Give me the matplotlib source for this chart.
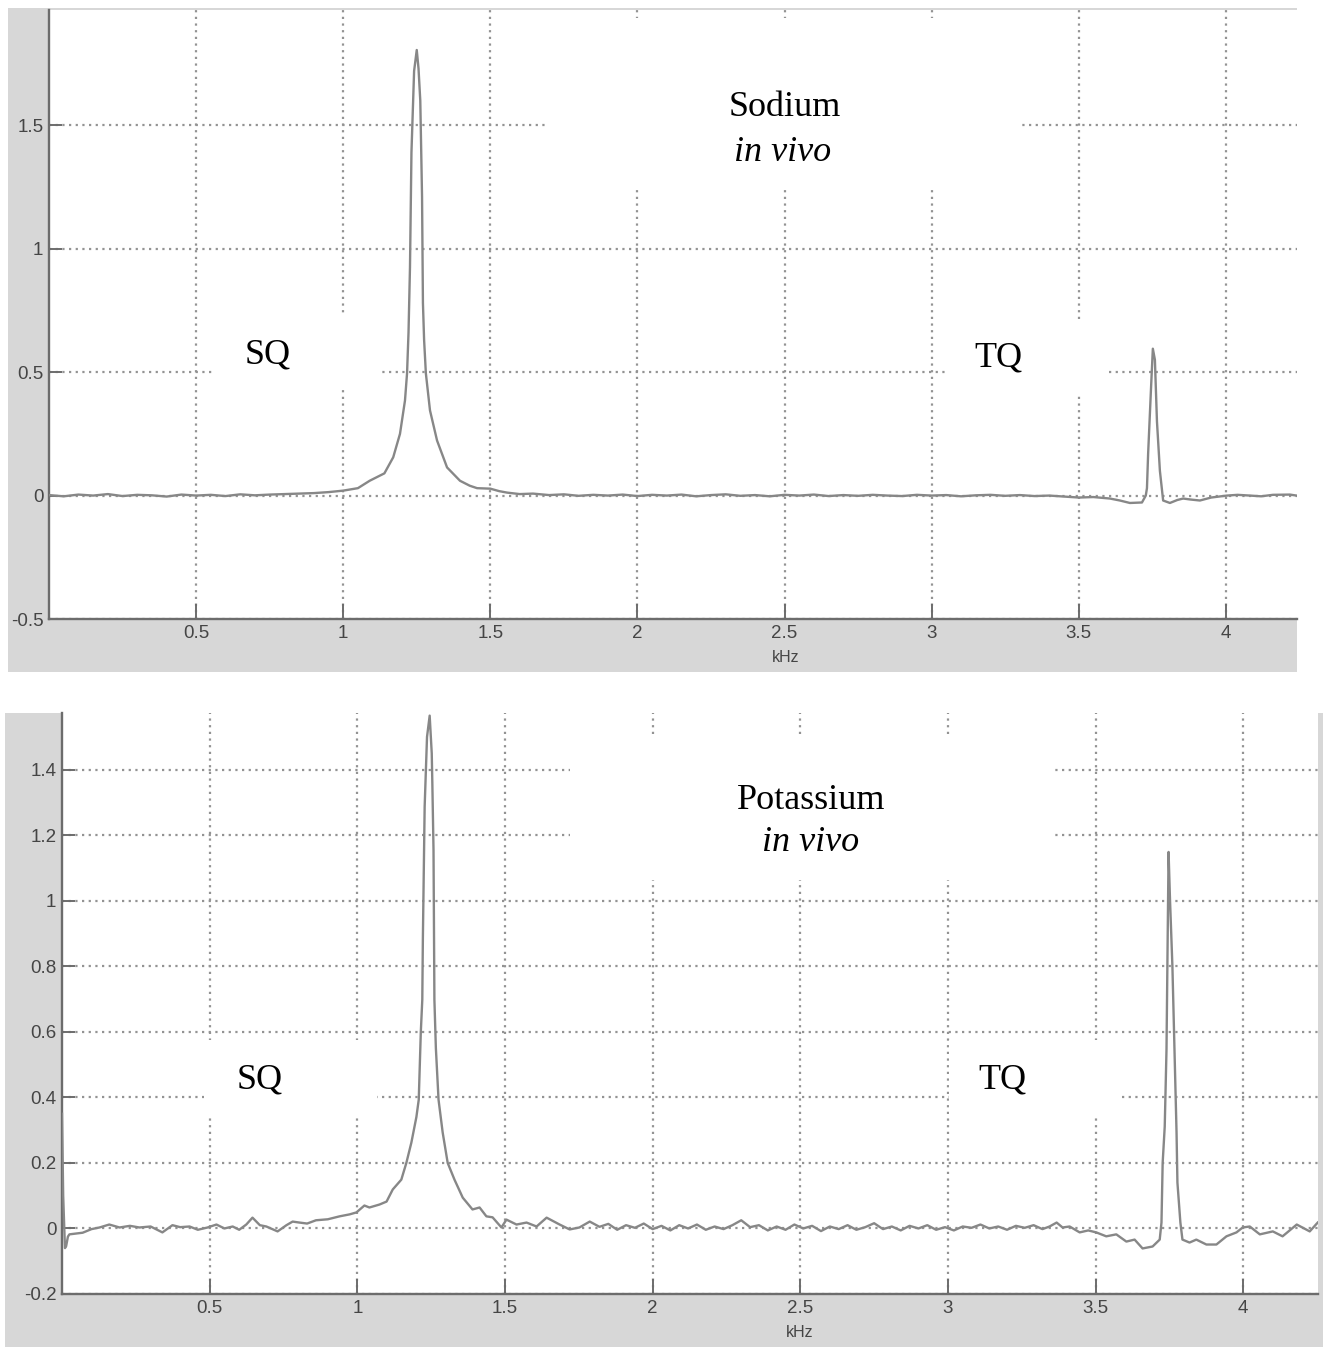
import matplotlib
matplotlib.use("Agg")
import matplotlib.pyplot as plt
from matplotlib.patches import Rectangle

plt.rcParams['font.family'] = ['Liberation Sans', 'DejaVu Sans']
plt.rcParams['axes.unicode_minus'] = False

# --- данные: натрий (Sodium in vivo) ---
na_khz = [0.00, 0.05, 0.10, 0.15, 0.20, 0.25, 0.30, 0.35, 0.40, 0.45, 0.50, 0.55, 0.60, 0.65,
          0.70, 0.75, 0.80, 0.85, 0.90, 0.95, 1.00, 1.05, 1.09, 1.14, 1.17, 1.193, 1.21, 1.217,
          1.222, 1.227, 1.232, 1.241, 1.250, 1.256, 1.262, 1.268, 1.271, 1.275, 1.281, 1.295,
          1.319, 1.353, 1.397, 1.43, 1.455, 1.50, 1.53, 1.557, 1.60, 1.645, 1.70, 1.75, 1.80,
          1.85, 1.90, 1.95, 2.00, 2.05, 2.10, 2.15, 2.20, 2.25, 2.30, 2.35, 2.40, 2.45, 2.50,
          2.55, 2.60, 2.65, 2.70, 2.75, 2.80, 2.85, 2.90, 2.95, 3.00, 3.05, 3.10, 3.15, 3.20,
          3.25, 3.30, 3.35, 3.40, 3.45, 3.50, 3.55, 3.606, 3.64, 3.674, 3.715, 3.728, 3.732,
          3.736, 3.746, 3.752, 3.759, 3.766, 3.776, 3.787, 3.81, 3.835, 3.855, 3.88, 3.912,
          3.95, 4.004, 4.04, 4.082, 4.12, 4.16, 4.218, 4.24]
na_amp = [0.002, -0.003, 0.004, 0.000, 0.006, -0.002, 0.003, 0.001, -0.004, 0.004, 0.000, 0.003,
          -0.002, 0.005, 0.001, 0.004, 0.006, 0.008, 0.010, 0.014, 0.020, 0.030, 0.060, 0.090,
          0.155, 0.25, 0.385, 0.495, 0.66, 0.925, 1.39, 1.72, 1.805, 1.73, 1.60, 1.21, 0.78,
          0.63, 0.495, 0.345, 0.223, 0.114, 0.060, 0.040, 0.030, 0.028, 0.018, 0.012, 0.006,
          0.008, 0.002, 0.005, -0.001, 0.003, 0.000, 0.004, -0.002, 0.003, 0.000, 0.004, -0.003,
          0.002, 0.005, -0.001, 0.002, -0.003, 0.003, 0.000, 0.004, -0.002, 0.002, -0.001, 0.003,
          0.000, -0.002, 0.003, 0.000, 0.002, -0.003, 0.001, 0.003, -0.001, 0.002, -0.002, 0.000,
          -0.004, -0.008, -0.006, -0.012, -0.020, -0.030, -0.028, 0.000, 0.030, 0.17, 0.44,
          0.595, 0.55, 0.30, 0.10, -0.020, -0.030, -0.018, -0.012, -0.016, -0.020, -0.008,
          0.000, 0.003, 0.000, -0.003, 0.003, 0.004, 0.000]

# --- данные: калий (Potassium in vivo) ---
k_khz = [0.000, 0.004, 0.010, 0.014, 0.020, 0.025, 0.07, 0.10, 0.127, 0.16, 0.195, 0.23, 0.262,
         0.30, 0.34, 0.374, 0.40, 0.432, 0.46, 0.493, 0.523, 0.55, 0.578, 0.60, 0.624, 0.645,
         0.67, 0.692, 0.73, 0.76, 0.781, 0.804, 0.83, 0.86, 0.90, 0.94, 0.974, 0.997, 1.024,
         1.041, 1.075, 1.099, 1.12, 1.149, 1.166, 1.183, 1.20, 1.208, 1.215, 1.22, 1.222, 1.228,
         1.236, 1.245, 1.252, 1.254, 1.258, 1.261, 1.266, 1.275, 1.289, 1.306, 1.329, 1.357,
         1.39, 1.414, 1.437, 1.458, 1.488, 1.505, 1.539, 1.573, 1.607, 1.641, 1.685, 1.719,
         1.752, 1.787, 1.82, 1.85, 1.88, 1.91, 1.94, 1.97, 2.00, 2.03, 2.06, 2.09, 2.12, 2.15,
         2.18, 2.21, 2.24, 2.27, 2.30, 2.33, 2.36, 2.39, 2.42, 2.45, 2.48, 2.51, 2.54, 2.57,
         2.60, 2.63, 2.66, 2.69, 2.72, 2.75, 2.78, 2.81, 2.84, 2.87, 2.90, 2.93, 2.96, 2.99,
         3.02, 3.05, 3.08, 3.11, 3.14, 3.17, 3.20, 3.23, 3.26, 3.29, 3.32, 3.344, 3.368, 3.388,
         3.412, 3.446, 3.475, 3.502, 3.536, 3.57, 3.604, 3.632, 3.659, 3.693, 3.717, 3.723,
         3.727, 3.734, 3.740, 3.744, 3.747, 3.752, 3.760, 3.767, 3.774, 3.777, 3.787, 3.794,
         3.818, 3.841, 3.875, 3.909, 3.943, 3.977, 3.998, 4.022, 4.056, 4.10, 4.133, 4.181,
         4.225, 4.252]
k_amp = [0.35, 0.10, -0.06, -0.054, -0.025, -0.018, -0.013, -0.002, 0.003, 0.012, 0.003, 0.008,
         0.003, 0.006, -0.012, 0.010, 0.004, 0.006, -0.004, 0.003, 0.012, 0.000, 0.006, -0.004,
         0.012, 0.033, 0.010, 0.006, -0.009, 0.010, 0.021, 0.018, 0.015, 0.025, 0.028, 0.037,
         0.043, 0.049, 0.070, 0.064, 0.073, 0.082, 0.119, 0.149, 0.20, 0.262, 0.34, 0.393, 0.60,
         0.698, 0.887, 1.287, 1.50, 1.565, 1.45, 1.36, 1.155, 0.698, 0.55, 0.393, 0.293, 0.20,
         0.149, 0.094, 0.058, 0.064, 0.037, 0.034, 0.003, 0.027, 0.012, 0.018, 0.006, 0.033,
         0.012, -0.003, 0.003, 0.021, 0.005, 0.014, -0.004, 0.010, 0.002, 0.015, -0.002, 0.008,
         -0.006, 0.010, 0.000, 0.012, -0.004, 0.006, -0.002, 0.010, 0.025, 0.004, 0.010, -0.006,
         0.006, -0.004, 0.012, 0.000, 0.008, -0.008, 0.006, -0.002, 0.010, -0.004, 0.004, 0.016,
         -0.002, 0.006, -0.006, 0.008, 0.000, 0.010, -0.004, 0.004, -0.006, 0.006, 0.002, 0.012,
         0.000, 0.006, -0.004, 0.008, 0.002, 0.010, -0.002, 0.006, 0.018, 0.003, 0.006, -0.012,
         -0.006, -0.012, -0.024, -0.018, -0.040, -0.034, -0.061, -0.055, -0.034, 0.018, 0.20,
         0.311, 0.546, 0.90, 1.149, 1.00, 0.80, 0.546, 0.293, 0.14, 0.018, -0.034, -0.043,
         -0.034, -0.049, -0.049, -0.024, -0.012, 0.003, 0.006, -0.018, -0.009, -0.024, 0.012,
         -0.009, 0.018]

top_xticks = [0.5, 1, 1.5, 2, 2.5, 3, 3.5, 4]
top_xlabels = ['0.5', '1', '1.5', '2', '2.5', '3', '3.5', '4']
top_yticks = [-0.5, 0, 0.5, 1, 1.5]
top_ylabels = ['-0.5', '0', '0.5', '1', '1.5']
bot_yticks = [-0.2, 0, 0.2, 0.4, 0.6, 0.8, 1, 1.2, 1.4]
bot_ylabels = ['-0.2', '0', '0.2', '0.4', '0.6', '0.8', '1', '1.2', '1.4']

W, H = 1323, 1347
fig = plt.figure(figsize=(W / 100, H / 100), dpi=100)
fig.patch.set_facecolor('white')

gray = '#d7d7d7'
# серые подложки панелей (в пикселях)
for (x0, y0, x1, y1) in [(8, 8, 1297, 672), (5, 713, 1323, 1347)]:
    fig.patches.append(Rectangle((x0 / W, 1 - y1 / H), (x1 - x0) / W, (y1 - y0) / H,
                                 transform=fig.transFigure, facecolor=gray, edgecolor='none',
                                 zorder=-5))


def px_axes(left, top, right, bottom):
    return fig.add_axes([left / W, 1 - bottom / H, (right - left) / W, (bottom - top) / H])


def style(ax, yticks, ylabels):
    ax.set_facecolor('white')
    ax.set_xticks(top_xticks)
    ax.set_xticklabels(top_xlabels)
    ax.set_yticks(yticks)
    ax.set_yticklabels(ylabels)
    ax.set_axisbelow(True)
    ax.grid(True, linestyle=(0, (1, 2)), color='#939393', linewidth=1.6)
    for s in ['top', 'right']:
        ax.spines[s].set_visible(False)
    for s in ['left', 'bottom']:
        ax.spines[s].set_color('#6c6c6c')
        ax.spines[s].set_linewidth(1.7)
    ax.tick_params(axis='x', direction='in', length=11, width=1.4, color='#6c6c6c',
                   labelsize=13.5, labelcolor='#454545', pad=4)
    ax.tick_params(axis='y', direction='in', length=9, width=1.4, color='#6c6c6c',
                   labelsize=13.5, labelcolor='#454545', pad=4)


def box(ax, x0, x1, y0, y1):
    ax.add_patch(Rectangle((x0, y0), x1 - x0, y1 - y0, facecolor='white', edgecolor='none',
                           zorder=1))


serif = ['Liberation Serif', 'DejaVu Serif']
line_color = '#878787'

# ----- верхняя панель: Sodium -----
ax1 = px_axes(49, 10, 1297, 619)
style(ax1, top_yticks, top_ylabels)
ax1.set_xlim(0, 4.242)
ax1.set_ylim(-0.5, 1.967)
box(ax1, 1.686, 3.307, 1.245, 1.935)
box(ax1, 0.554, 1.118, 0.426, 0.730)
box(ax1, 3.046, 3.589, 0.406, 0.710)
ax1.plot(na_khz, na_amp, color=line_color, linewidth=1.7, zorder=3)
ax1.text(2.502, 1.574, 'Sodium', family=serif, fontsize=26, ha='center', va='center', zorder=4)
ax1.text(2.495, 1.391, 'in vivo', family=serif, fontsize=26, style='italic', ha='center',
         va='center', zorder=4)
ax1.text(0.744, 0.568, 'SQ', family=serif, fontsize=26, ha='center', va='center', zorder=4)
ax1.text(3.226, 0.556, 'TQ', family=serif, fontsize=26, ha='center', va='center', zorder=4)
ax1.text(0.59, -0.064, 'kHz', transform=ax1.transAxes, fontsize=11.5, color='#454545',
         ha='center', va='center')

# ----- нижняя панель: Potassium -----
ax2 = px_axes(62, 713, 1318, 1294)
style(ax2, bot_yticks, bot_ylabels)
ax2.set_xlim(0, 4.253)
ax2.set_ylim(-0.2, 1.573)
box(ax2, 1.719, 3.361, 1.064, 1.506)
box(ax2, 0.482, 1.068, 0.348, 0.576)
box(ax2, 3.005, 3.581, 0.348, 0.576)
ax2.plot(k_khz, k_amp, color=line_color, linewidth=1.7, zorder=3)
ax2.text(2.538, 1.305, 'Potassium', family=serif, fontsize=26, ha='center', va='center', zorder=4)
ax2.text(2.535, 1.177, 'in vivo', family=serif, fontsize=26, style='italic', ha='center',
         va='center', zorder=4)
ax2.text(0.669, 0.454, 'SQ', family=serif, fontsize=26, ha='center', va='center', zorder=4)
ax2.text(3.185, 0.454, 'TQ', family=serif, fontsize=26, ha='center', va='center', zorder=4)
ax2.text(0.5876, -0.067, 'kHz', transform=ax2.transAxes, fontsize=11.5, color='#454545',
         ha='center', va='center')

fig.savefig('out.png', dpi=100, facecolor=fig.get_facecolor())
